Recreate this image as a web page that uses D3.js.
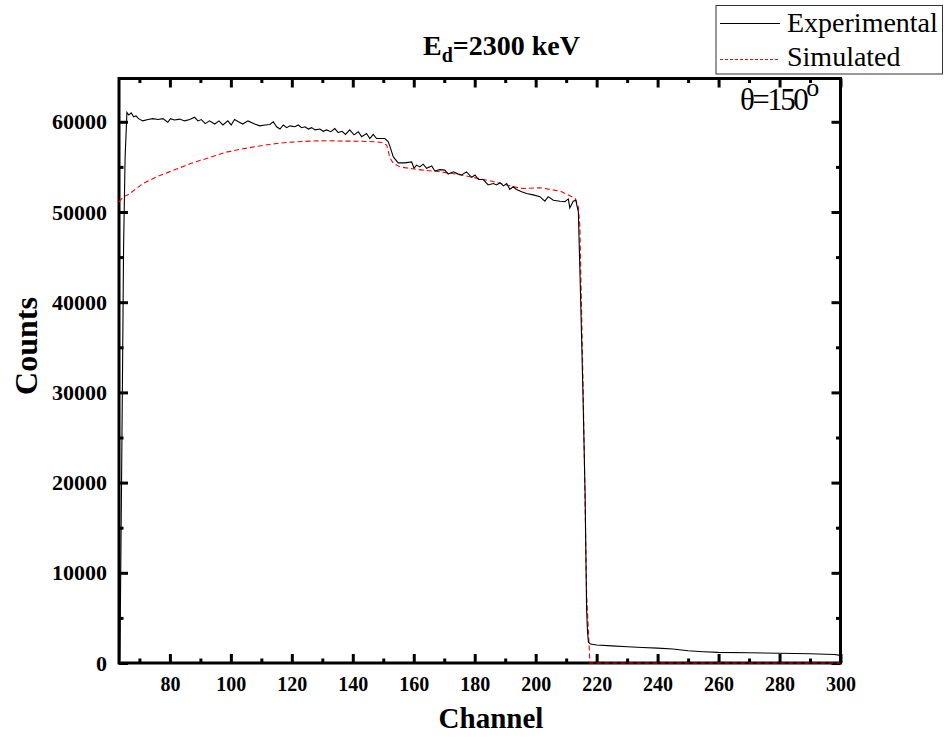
<!DOCTYPE html>
<html>
<head>
<meta charset="utf-8">
<script src="https://cdn.jsdelivr.net/npm/d3@7"></script>
<style>
  body { margin: 0; background: #fff; }
  text { font-family: 'Liberation Serif', 'Times New Roman', serif; }
</style>
</head>
<body>
<div class="canvas"></div>
<script>
// experimental spectrum
const expChannel = [63.3, 63.6, 64.0, 64.4, 64.8, 65.3, 65.9, 66.5, 67.3, 68.1, 68.9, 69.7, 71.1, 72.8,
  74.4, 76.1, 77.7, 79.3, 80.2, 81.5, 83.2, 84.8, 86.5, 88.1, 89.2, 90.3, 91.6, 93.0, 94.7, 96.1,
  97.4, 99.0, 100.1, 101.2, 102.5, 103.9, 105.6, 107.8, 109.5, 111.2, 112.8, 113.9, 115.0, 116.1,
  117.2, 118.3, 119.4, 121.0, 122.1, 123.2, 124.3, 125.4, 126.5, 127.6, 129.2, 130.3, 131.4, 132.8,
  134.1, 135.2, 136.5, 137.6, 139.0, 140.4, 141.8, 142.9, 144.5, 145.6, 146.7, 147.8, 150.5, 151.6,
  152.2, 153.3, 154.9, 157.1, 159.3, 160.1, 160.9, 162.0, 163.1, 164.2, 165.9, 166.9, 168.6, 170.2,
  171.3, 173.0, 174.6, 175.7, 177.3, 179.0, 180.1, 181.2, 182.8, 184.4, 186.1, 187.2, 188.3, 189.4,
  190.5, 191.5, 192.6, 193.7, 195.4, 197.0, 199.2, 201.4, 203.0, 204.1, 205.8, 208.0, 209.6, 210.7,
  211.2, 212.3, 213.2, 213.6, 214.0, 214.7, 215.5, 216.2, 216.7, 217.0, 217.3, 218.0, 220, 225,
  230, 235, 240, 245, 250, 255, 260, 270, 280, 290, 298, 300]
const expCounts = [0, 400, 15000, 30000, 46000, 56000, 61050, 60750, 61000, 60550, 60650, 60350, 60100, 60250,
  60350, 60250, 60350, 59950, 60350, 60200, 60300, 60100, 60250, 60500, 60100, 60250, 59800, 60100, 59750, 60100,
  59650, 60100, 59650, 60250, 60000, 59750, 60100, 59750, 59550, 59650, 59700, 60000, 59450, 59200,
  59650, 59350, 59550, 59450, 59650, 59350, 59450, 59200, 59350, 59100, 59200, 58950, 59100, 58900,
  59250, 58800, 58950, 58600, 59100, 58550, 58900, 58350, 58700, 58150, 58600, 58150, 58150, 57800,
  57250, 56100, 55450, 55450, 55550, 54850, 55200, 55000, 55300, 54850, 55100, 54550, 54700, 54650,
  54200, 54450, 54200, 54100, 54450, 53850, 54100, 53600, 53600, 53000, 53150, 53000, 53250, 52900,
  53150, 52500, 52800, 52500, 52250, 52050, 51900, 51700, 51200, 51700, 51300, 51200, 51150, 51450,
  50450, 51200, 51300, 50600, 50000, 41000, 30000, 19000, 6000, 3500, 2300, 2100, 2000, 1900,
  1800, 1720, 1650, 1550, 1350, 1250, 1180, 1130, 1080, 1030, 940, 850]

// simulated spectrum
const simChannel = [63.3, 64.7, 66.3, 71.2, 76, 82.2, 87, 93.1, 98, 104, 110, 115, 120, 125.9, 131,
  136.9, 142, 147.8, 149.5, 151.1, 152.2, 153.3, 155.5, 160.9, 168.6, 174, 179.4, 185, 190.5, 193.7,
  196, 201.4, 208, 212.9, 214, 214.5, 215.6, 216.7, 217.8, 300]
const simCounts = [51100, 51700, 51900, 53170, 53950, 54760, 55400, 56050, 56600, 57010, 57350, 57600, 57750, 57860, 57900,
  57860, 57850, 57780, 57700, 57420, 56000, 55390, 55000, 54720, 54460, 54200, 53840, 53460, 52990, 52730,
  52600, 52690, 52320, 51510, 50580, 48370, 29910, 7750, 0, 0]

const xTicks = [80, 100, 120, 140, 160, 180, 200, 220, 240, 260, 280, 300]
const xMinor = [70, 90, 110, 130, 150, 170, 190, 210, 230, 250, 270, 290]
const yTicks = [0, 10000, 20000, 30000, 40000, 50000, 60000]
const yMinor = [5000, 15000, 25000, 35000, 45000, 55000]

class SpectrumChart {
  constructor() {
    const margin = {top: 78.5, bottom: 75, left: 119, right: 105.5}
    this.width = 946 - margin.left - margin.right
    this.height = 738 - margin.top - margin.bottom

    this.svg = d3.select('.canvas')
      .append('svg')
      .attr('width', 946)
      .attr('height', 738)
    this.graph = this.svg.append('g')
      .attr('transform', `translate(${margin.left}, ${margin.top})`)

    this.x = d3.scaleLinear().domain([63.3, 300]).range([0, this.width])
    this.y = d3.scaleLinear().domain([0, 64800]).range([this.height, 0])

    this.drawAxes()
    this.drawLines()
    this.drawText()
  }

  styleAxis(g) {
    g.select('.domain').remove()
    g.selectAll('line').attr('stroke', '#000').attr('stroke-width', 3)
    g.selectAll('text')
      .attr('fill', '#000')
      .attr('font-weight', 'bold')
      .attr('font-family', "'Liberation Serif', serif")
  }

  drawAxes() {
    const {x, y, width, height, graph} = this
    graph.append('rect')
      .attr('width', width)
      .attr('height', height)
      .attr('fill', 'none')
      .attr('stroke', '#000')
      .attr('stroke-width', 3)

    const plain = d3.format('d')
    const axes = [
      [d3.axisBottom(x).tickValues(xTicks).tickSize(-9).tickPadding(14).tickFormat(plain), `translate(0, ${height})`, 20],
      [d3.axisBottom(x).tickValues(xMinor).tickSize(-4.5).tickFormat(''), `translate(0, ${height})`],
      [d3.axisTop(x).tickValues(xTicks).tickSize(-9).tickFormat(''), 'translate(0, 0)'],
      [d3.axisTop(x).tickValues(xMinor).tickSize(-4.5).tickFormat(''), 'translate(0, 0)'],
      [d3.axisLeft(y).tickValues(yTicks).tickSize(-9).tickPadding(12).tickFormat(plain), 'translate(0, 0)', 22],
      [d3.axisLeft(y).tickValues(yMinor).tickSize(-4.5).tickFormat(''), 'translate(0, 0)'],
      [d3.axisRight(y).tickValues(yTicks).tickSize(-9).tickFormat(''), `translate(${width}, 0)`],
      [d3.axisRight(y).tickValues(yMinor).tickSize(-4.5).tickFormat(''), `translate(${width}, 0)`]
    ]
    axes.forEach(([axis, transform, size]) => {
      const g = graph.append('g').attr('transform', transform).call(axis)
      this.styleAxis(g)
      if (size) g.selectAll('text').attr('font-size', size)
    })
  }

  drawLines() {
    const {x, y, graph} = this
    const line = d3.line().x(d => x(d[0])).y(d => y(d[1]))

    graph.append('path')
      .datum(simChannel.map((c, i) => [c, simCounts[i]]))
      .attr('d', line)
      .attr('fill', 'none')
      .attr('stroke', '#ff0000')
      .attr('stroke-width', 1.1)
      .attr('stroke-dasharray', '5,3')

    graph.append('path')
      .datum(expChannel.map((c, i) => [c, expCounts[i]]))
      .attr('d', line)
      .attr('fill', 'none')
      .attr('stroke', '#000')
      .attr('stroke-width', 1.1)
  }

  drawText() {
    const svg = this.svg

    // axis titles
    svg.append('text')
      .attr('x', 491).attr('y', 728)
      .attr('text-anchor', 'middle')
      .attr('font-size', 29).attr('font-weight', 'bold')
      .text('Channel')
    svg.append('text')
      .attr('transform', 'translate(37, 346) rotate(-90)')
      .attr('text-anchor', 'middle')
      .attr('font-size', 32).attr('font-weight', 'bold')
      .text('Counts')

    // title with subscript
    const title = svg.append('text')
      .attr('x', 423).attr('y', 55)
      .attr('font-size', 28).attr('font-weight', 'bold')
    title.append('tspan').text('E')
    title.append('tspan').attr('font-size', 20).attr('dy', 7).text('d')
    title.append('tspan').attr('dy', -7).text('=2300 keV')

    // angle label
    const angle = svg.append('text')
      .attr('x', 740).attr('y', 110)
      .attr('font-size', 31).attr('letter-spacing', -2.5)
    angle.append('tspan').text('θ=150')
    angle.append('tspan').attr('font-size', 26).attr('dy', -14).text('o')

    // legend
    const legend = svg.append('g')
    legend.append('rect')
      .attr('x', 716).attr('y', 5.5)
      .attr('width', 226.5).attr('height', 68.5)
      .attr('fill', '#fff').attr('stroke', '#333').attr('stroke-width', 1)
    legend.append('line')
      .attr('x1', 720).attr('x2', 780).attr('y1', 23.5).attr('y2', 23.5)
      .attr('stroke', '#000').attr('stroke-width', 1)
    legend.append('line')
      .attr('x1', 720).attr('x2', 780).attr('y1', 59.5).attr('y2', 59.5)
      .attr('stroke', '#ff0000').attr('stroke-width', 1).attr('stroke-dasharray', '3,2')
    legend.append('text').attr('x', 787).attr('y', 32).attr('font-size', 28).text('Experimental')
    legend.append('text').attr('x', 787).attr('y', 66).attr('font-size', 28).text('Simulated')
  }
}

let chart = new SpectrumChart
</script>
</body>
</html>
